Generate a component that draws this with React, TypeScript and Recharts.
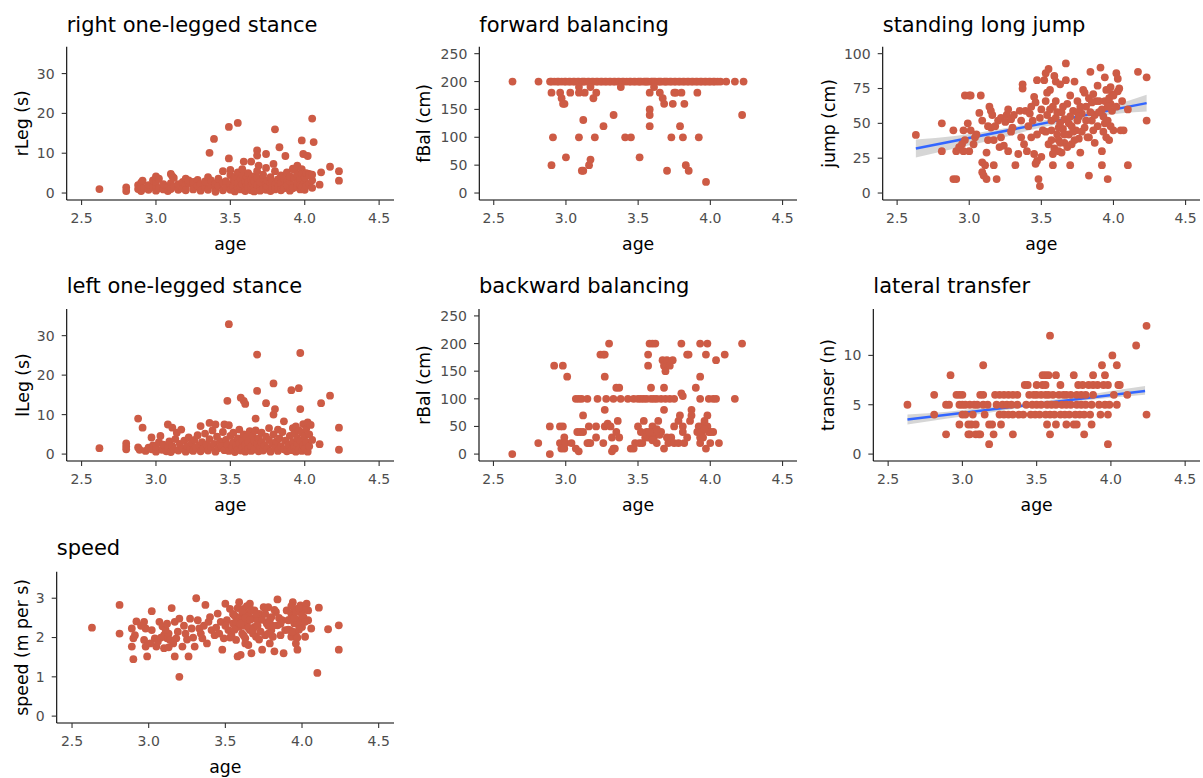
import React from 'react';
import { ComposedChart, Scatter, Line, Area, XAxis, YAxis } from 'recharts';

type P = [number, number];
type B = [number, number, number];

const ageTicks = [2.5, 3, 3.5, 4, 4.5];
const legTicks = [0, 10, 20, 30];
const balTicks = [0, 50, 100, 150, 200, 250];
const jumpTicks = [0, 25, 50, 75, 100];
const transferTicks = [0, 5, 10];
const speedTicks = [0, 1, 2, 3];

const rLegData: P[] = [
[2.62,1.0],[2.80,1.4],[2.80,0.5],[2.88,1.0],[2.88,2.0],[2.90,0.5],[2.90,1.5],[2.90,2.6],[2.91,3.1],[2.92,1.2],[2.95,0.8],[2.95,2.0],[2.98,1.5],[2.98,3.2],
[3.00,0.6],[3.00,1.8],[3.00,2.8],[3.00,4.2],[3.02,1.2],[3.02,3.6],[3.05,0.9],[3.05,2.2],[3.08,1.5],[3.08,0.5],[3.10,2.5],[3.10,4.8],[3.10,1.0],[3.11,4.2],[3.12,3.8],[3.12,1.6],[3.15,0.8],[3.15,2.2],[3.18,1.2],[3.18,2.8],[3.20,3.6],[3.20,1.9],[3.20,0.7],[3.22,2.5],[3.22,3.2],[3.25,1.5],[3.25,0.9],[3.25,2.8],[3.28,3.3],[3.28,1.8],[3.30,2.2],[3.30,0.6],[3.33,1.4],[3.33,2.9],[3.35,4.0],[3.35,0.8],[3.36,10.1],[3.37,2.0],[3.37,3.2],[3.39,13.6],[3.40,1.0],[3.40,2.4],[3.40,0.3],[3.42,1.8],[3.42,3.6],[3.45,2.6],[3.45,0.7],[3.45,5.5],[3.47,1.4],[3.47,3.0],[3.49,16.6],[3.49,8.7],[3.50,2.2],[3.50,0.8],[3.50,4.5],[3.50,5.8],[3.52,1.6],[3.52,3.4],[3.53,0.4],[3.53,2.8],[3.53,4.0],[3.55,17.6],[3.55,1.2],[3.55,2.5],[3.55,5.2],[3.57,0.9],[3.57,3.6],[3.57,1.8],[3.58,2.2],[3.58,4.5],[3.58,6.0],[3.59,7.9],[3.60,1.0],[3.60,3.0],[3.60,0.5],[3.61,2.0],[3.61,4.0],[3.62,1.4],[3.62,2.8],[3.62,5.0],[3.64,7.9],[3.64,0.7],[3.64,3.4],[3.64,1.9],[3.65,2.4],[3.65,4.2],[3.66,1.2],[3.66,3.0],[3.66,0.4],[3.68,10.7],[3.68,9.4],[3.68,2.0],[3.68,3.8],[3.68,5.5],[3.69,6.9],[3.70,1.5],[3.70,2.8],[3.70,0.6],[3.72,3.5],[3.72,1.0],[3.72,4.6],[3.74,9.8],[3.74,2.2],[3.74,0.8],[3.74,6.3],[3.75,1.7],[3.75,3.2],[3.77,2.6],[3.77,0.5],[3.77,4.0],[3.78,1.4],[3.78,3.0],[3.79,7.3],[3.80,16.0],[3.80,2.1],[3.80,5.5],[3.80,0.9],[3.82,3.4],[3.82,1.6],[3.83,11.5],[3.84,2.4],[3.84,4.4],[3.84,0.7],[3.86,1.2],[3.86,3.6],[3.87,9.3],[3.88,2.8],[3.88,5.2],[3.88,1.8],[3.90,0.6],[3.90,3.0],[3.90,4.2],[3.92,6.1],[3.92,2.0],[3.92,1.2],[3.93,3.8],[3.93,5.8],[3.95,6.9],[3.95,1.5],[3.95,2.6],[3.95,4.6],[3.97,0.9],[3.97,3.4],[3.97,2.0],[3.98,13.2],[3.98,6.0],[3.98,4.8],[3.98,1.4],[3.99,9.8],[4.00,2.8],[4.00,3.9],[4.00,0.8],[4.01,1.8],[4.01,5.0],[4.02,9.3],[4.03,4.8],[4.03,2.3],[4.03,4.4],[4.05,18.7],[4.05,1.3],[4.05,3.2],[4.05,4.6],[4.06,12.8],[4.10,2.1],[4.11,5.2],[4.17,6.6],[4.23,5.5],[4.23,3.1]
];

const fBalData: P[] = [
[2.63,200],[2.81,200],[2.89,200],[2.90,200],[2.92,200],[2.94,200],[2.95,200],[2.97,200],[2.99,200],[3.00,200],[3.02,200],[3.03,200],[3.05,200],[3.06,200],[3.08,200],[3.09,200],[3.11,200],[3.12,200],[3.13,200],[3.15,200],[3.16,200],[3.18,200],[3.19,200],[3.21,200],[3.22,200],[3.24,200],[3.25,200],[3.27,200],[3.28,200],[3.30,200],[3.31,200],[3.33,200],[3.34,200],[3.36,200],[3.37,200],[3.39,200],[3.40,200],[3.42,200],[3.44,200],[3.45,200],[3.47,200],[3.48,200],[3.50,200],[3.51,200],[3.52,200],[3.54,200],[3.55,200],[3.56,200],[3.57,200],[3.59,200],[3.60,200],[3.61,200],[3.62,200],[3.64,200],[3.65,200],[3.66,200],[3.68,200],[3.69,200],[3.70,200],[3.72,200],[3.73,200],[3.75,200],[3.76,200],[3.78,200],[3.79,200],[3.81,200],[3.82,200],[3.84,200],[3.85,200],[3.87,200],[3.88,200],[3.90,200],[3.91,200],[3.93,200],[3.94,200],[3.96,200],[3.97,200],[3.99,200],[4.00,200],[4.02,200],[4.03,200],[4.05,200],[4.07,200],[4.11,200],[4.17,200],[4.23,200],
[2.90,180],[2.90,50],[2.91,100],[2.96,180],[2.97,170],[2.98,160],[2.99,160],[3.00,64],[3.03,180],[3.09,190],[3.09,180],[3.09,100],[3.11,40],[3.12,40],[3.12,131],[3.13,180],[3.16,50],[3.17,60],[3.17,190],[3.19,170],[3.21,180],[3.20,100],[3.26,120],[3.33,140],[3.38,190],[3.41,100],[3.45,100],[3.51,64],[3.58,180],[3.58,150],[3.58,140],[3.58,120],[3.61,190],[3.65,180],[3.67,170],[3.68,160],[3.70,40],[3.74,160],[3.73,100],[3.75,180],[3.76,180],[3.80,180],[3.79,120],[3.81,100],[3.82,160],[3.83,50],[3.85,40],[3.91,180],[3.92,100],[3.97,20],[4.22,140]
];

const jumpData: P[] = [
[2.63,41.7],[2.81,50],[2.81,30],[2.89,45],[2.89,10],[2.91,10],[2.91,30],[2.93,33],[2.96,45],[2.97,70],[3.00,70],[3.01,70],[2.99,50],[2.97,38],[3.00,30],[3.01,45],[2.96,30],[3.03,35],[3.04,40],[3.08,70],[3.07,57.5],[3.09,52],[3.09,22],[3.09,15],[3.10,12.5],[3.12,10],[3.11,20],[3.12,29],[3.13,38],[3.14,62],[3.15,59],[3.16,56],[3.15,47],[3.17,38],[3.17,20],[3.19,10],[3.20,52],[3.21,33],[3.22,54],[3.24,34],[3.25,51],[3.26,56],[3.27,60],[3.29,53],[3.30,47],[3.31,56],[3.32,20],[3.34,28],[3.35,59],[3.36,40],[3.37,78],[3.37,75],[3.39,59],[3.40,30],[3.42,57],[3.43,40],[3.45,69],[3.45,28],[3.46,65],[3.46,21],[3.47,81],[3.47,23],[3.48,10],[3.49,5],[3.49,54],[3.50,26],[3.51,45],[3.52,81],[3.53,66],[3.53,86],[3.54,56],[3.55,89],[3.55,35],[3.56,74],[3.57,45],[3.58,62],[3.58,20],[3.59,84],[3.59,32],[3.60,54],[3.60,66],[3.61,42],[3.62,38],[3.62,47],[3.63,78],[3.64,29],[3.64,58],[3.66,53],[3.66,36],[3.67,81],[3.67,93],[3.68,64],[3.69,42],[3.69,50],[3.70,20],[3.71,35],[3.72,59],[3.73,80],[3.74,45],[3.75,52],[3.75,66],[3.76,39],[3.77,29],[3.78,57],[3.79,74],[3.80,47],[3.81,62],[3.82,40],[3.83,68],[3.83,12.5],[3.84,87],[3.85,52],[3.86,71],[3.87,56],[3.88,66],[3.89,77],[3.89,48],[3.91,90],[3.92,20],[3.92,30],[3.92,60],[3.93,44],[3.94,66],[3.94,83],[3.95,40],[3.95,74],[3.96,52],[3.96,10],[3.97,38],[3.98,76],[3.98,64],[3.99,59],[3.99,71],[4.00,45],[4.02,86],[4.03,82],[4.04,75],[4.05,45],[4.06,66],[4.07,45],[4.10,20],[4.10,60],[4.17,87],[4.23,83],[4.23,52],
[3.53,44],[3.57,38],[3.62,30],[3.65,46],[3.70,55],[3.72,44],[3.77,62],[3.83,40],[3.86,45],[3.90,58],[3.94,50],[3.97,68],[3.58,28],[3.63,36],[3.68,33],[3.56,60],[3.44,52],[3.38,35],[3.27,30],[3.18,48],[3.05,42],[2.95,35],[3.85,65],[3.80,72],[3.75,58],[4.02,62],[4.03,73],
[3.50,60],[3.54,72],[3.57,52],[3.60,80],[3.61,58],[3.63,50],[3.65,62],[3.66,42],[3.70,70],[3.71,48],[3.73,38],[3.76,55],[3.78,44],[3.81,52],[3.84,58],[3.87,36],[3.90,66],[3.93,55],[3.96,62],[3.98,48],[4.00,70],[3.41,48],[3.36,52],[3.29,44],[3.22,40],[3.13,48],[3.43,62],[3.47,42]
];
const jumpFit: P[] = [[2.63,32],[4.23,64.5]];
const jumpBand: B[] = [[2.63,25.5,38.5],[2.9,32,41],[3.2,39,45.5],[3.5,47,51.8],[3.8,53,58.5],[4.0,56.5,63],[4.23,58.5,70.5]];

const lLegData: P[] = [
[2.62,1.5],[2.80,2.7],[2.80,1.9],[2.80,1.2],[2.88,9.0],[2.88,1.7],[2.89,1.1],[2.91,6.7],[2.93,0.8],[2.95,1.6],[2.97,4.2],[2.97,1.2],[2.98,2.2],[3.00,0.6],[3.00,1.8],[3.02,3.0],[3.03,4.6],[3.04,1.1],[3.05,2.4],[3.07,0.7],[3.08,7.5],[3.08,1.6],[3.09,3.2],[3.10,0.5],[3.11,6.7],[3.11,2.0],[3.12,1.2],[3.13,3.8],[3.14,5.4],[3.15,0.9],[3.16,2.6],[3.17,6.2],[3.18,1.4],[3.19,3.4],[3.20,0.6],[3.21,2.0],[3.22,4.2],[3.23,1.2],[3.24,2.8],[3.25,0.8],[3.26,3.6],[3.27,1.6],[3.28,4.8],[3.29,2.2],[3.30,7.1],[3.30,0.7],[3.31,3.0],[3.32,1.4],[3.33,5.2],[3.34,2.4],[3.35,0.9],[3.36,7.9],[3.36,3.8],[3.37,1.8],[3.38,6.0],[3.39,2.6],[3.40,7.5],[3.40,0.6],[3.41,4.4],[3.42,1.5],[3.43,3.2],[3.44,2.0],[3.45,5.6],[3.46,7.5],[3.46,1.0],[3.47,3.6],[3.48,13.5],[3.48,2.4],[3.49,32.9],[3.49,7.3],[3.49,0.8],[3.50,4.6],[3.51,1.8],[3.52,3.0],[3.52,5.4],[3.53,0.5],[3.54,2.2],[3.55,4.0],[3.55,1.2],[3.56,6.2],[3.56,2.8],[3.57,14.3],[3.57,0.9],[3.58,3.6],[3.58,1.6],[3.59,13.5],[3.59,5.0],[3.60,12.7],[3.60,2.4],[3.60,0.6],[3.61,4.2],[3.62,1.4],[3.62,3.2],[3.63,5.8],[3.64,0.8],[3.64,2.0],[3.65,4.6],[3.66,1.2],[3.66,3.4],[3.67,9.0],[3.67,6.0],[3.68,25.2],[3.68,16.0],[3.68,2.6],[3.69,0.7],[3.69,4.0],[3.70,1.8],[3.71,3.0],[3.71,5.4],[3.72,0.9],[3.73,2.2],[3.74,12.9],[3.74,4.4],[3.75,1.4],[3.76,3.6],[3.76,6.6],[3.77,0.6],[3.78,2.6],[3.79,17.9],[3.79,10.0],[3.79,5.0],[3.80,11.4],[3.80,1.6],[3.81,3.2],[3.82,6.2],[3.82,0.8],[3.83,4.0],[3.84,2.0],[3.85,5.6],[3.86,8.3],[3.86,1.2],[3.87,3.4],[3.88,0.7],[3.89,2.4],[3.90,4.6],[3.91,16.2],[3.91,1.0],[3.92,6.6],[3.92,3.0],[3.93,5.2],[3.93,1.8],[3.94,0.6],[3.94,7.0],[3.95,2.6],[3.95,4.0],[3.96,16.7],[3.96,6.0],[3.96,1.2],[3.97,25.6],[3.97,11.4],[3.97,3.4],[3.98,5.4],[3.98,0.8],[3.99,7.6],[3.99,2.2],[4.00,4.6],[4.00,1.4],[4.01,6.4],[4.01,3.0],[4.02,8.0],[4.02,0.6],[4.03,5.0],[4.03,2.0],[4.04,7.4],[4.05,3.6],[4.10,2.5],[4.11,12.9],[4.17,14.8],[4.23,6.7],[4.23,1.1]
];

const rBalData: P[] = [
[2.63,0],[2.81,20],[2.89,0],[2.89,50],[2.92,160],[2.98,160],[2.96,50],[2.98,50],[2.96,20],[2.97,10],[2.99,30],[2.99,10],[3.00,20],[3.01,140],[3.04,20],[3.07,100],[3.09,100],[3.11,100],[3.15,100],[3.07,10],[3.09,5],[3.08,40],[3.10,40],[3.12,40],[3.12,70],[3.15,20],[3.16,20],[3.17,20],[3.16,50],[3.21,50],[3.22,100],[3.21,30],[3.24,180],[3.26,180],[3.27,180],[3.30,200],[3.27,140],[3.27,80],[3.28,100],[3.27,50],[3.29,55],[3.31,50],[3.26,20],[3.32,5],[3.33,10],[3.34,10],[3.32,30],[3.35,40],[3.36,60],[3.37,30],[3.35,120],[3.37,120],[3.33,100],[3.38,100],[3.43,100],[3.47,100],[3.50,100],[3.52,100],[3.54,100],[3.56,100],[3.59,100],[3.61,100],[3.63,100],[3.66,100],[3.69,100],[3.72,100],[3.75,100],[3.45,10],[3.47,10],[3.48,20],[3.51,20],[3.53,20],[3.50,50],[3.52,40],[3.54,60],[3.56,40],[3.57,30],[3.57,160],[3.57,180],[3.58,200],[3.60,200],[3.62,200],[3.59,120],[3.60,50],[3.61,30],[3.62,40],[3.63,20],[3.64,60],[3.66,40],[3.67,170],[3.68,160],[3.69,150],[3.70,170],[3.72,160],[3.74,170],[3.68,120],[3.68,80],[3.68,10],[3.70,30],[3.71,20],[3.73,30],[3.75,20],[3.78,20],[3.82,20],[3.75,50],[3.78,60],[3.79,70],[3.81,50],[3.81,40],[3.80,200],[3.80,110],[3.81,105],[3.84,180],[3.85,180],[3.86,60],[3.87,80],[3.87,70],[3.90,120],[3.91,40],[3.92,50],[3.93,30],[3.93,20],[3.94,50],[3.94,40],[3.93,140],[3.93,200],[3.98,200],[3.93,100],[3.99,100],[4.02,100],[4.04,100],[3.97,180],[3.97,10],[3.96,60],[3.98,70],[3.98,50],[3.99,40],[4.00,40],[4.02,40],[4.00,20],[4.06,20],[4.04,170],[4.10,180],[4.17,100],[4.22,200],
[3.55,30],[3.58,40],[3.60,25],[3.65,35],[3.63,45],[3.95,30],[3.96,45],[3.84,30]
];

const transferData: P[] = [
[2.63,5],[2.81,6],[2.81,4],[2.89,2],[2.89,5],[2.91,5],[2.92,8],[2.96,6],[2.98,6],[3.00,6],[2.98,5],[3.00,5],[3.02,5],[2.98,3],[3.00,4],[3.02,4],[3.04,2],[3.05,2],[3.04,3],[3.06,3],[3.09,3],[3.05,5],[3.08,5],[3.10,5],[3.07,4],[3.09,2],[3.11,2],[3.12,2],[3.12,6],[3.14,6],[3.14,9],[3.14,5],[3.17,5],[3.15,4],[3.18,3],[3.20,3],[3.18,1],[3.21,2],
[3.22,6],[3.25,6],[3.28,6],[3.31,6],[3.34,6],[3.37,6],[3.23,5],[3.27,5],[3.30,5],[3.33,5],[3.37,5],[3.25,4],[3.28,4],[3.31,4],[3.34,4],[3.38,4],[3.41,4],[3.26,3],[3.34,2],[3.42,7],[3.44,7],
[3.45,6],[3.48,6],[3.50,6],[3.53,6],[3.56,6],[3.58,6],[3.61,6],[3.65,6],[3.68,6],
[3.43,5],[3.47,5],[3.50,5],[3.53,5],[3.57,5],[3.60,5],[3.63,5],[3.67,5],[3.70,5],[3.73,5],[3.77,5],[3.80,5],[3.83,5],[3.87,5],
[3.46,4],[3.49,4],[3.52,4],[3.56,4],[3.59,4],[3.62,4],[3.66,4],[3.69,4],[3.72,4],[3.76,4],[3.79,4],[3.82,4],[3.86,4],
[3.50,7],[3.54,7],[3.56,7],[3.54,8],[3.56,8],[3.58,8],[3.63,8],[3.59,12],[3.57,3],[3.63,3],[3.59,2],[3.66,7],[3.75,8],[3.88,8],[3.70,3],[3.75,3],[3.77,3],[3.87,3],[3.82,2],
[3.78,7],[3.81,7],[3.85,7],[3.88,7],[3.91,7],[3.95,7],[3.98,7],[3.70,6],[3.73,6],[3.77,6],[3.80,6],[3.83,6],[3.88,6],
[3.94,9],[3.96,8],[3.92,5],[3.96,5],[3.99,5],[4.04,5],[3.93,4],[3.98,4],[3.98,1],[4.01,10],[4.04,9],[4.02,6],[4.05,7],[4.06,7],[4.11,6],[4.17,11],[4.24,13],[4.24,4]
];
const transferFit: P[] = [[2.63,3.5],[4.23,6.4]];
const transferBand: B[] = [[2.63,3.0,4.0],[2.9,3.6,4.3],[3.2,4.25,4.8],[3.5,4.9,5.3],[3.8,5.4,5.9],[4.0,5.7,6.4],[4.23,6.0,6.9]];

const speedData: P[] = [
[2.63,2.25],[2.81,2.83],[2.81,2.1],[2.89,2.23],[2.90,1.98],[2.89,1.77],[2.90,1.45],[2.92,2.41],[2.91,2.06],[2.97,2.40],[2.98,2.23],[2.97,1.94],[2.98,1.77],[2.99,1.52],[3.02,2.67],[3.02,2.19],[3.04,1.98],[3.05,1.77],[3.07,2.40],[3.09,2.29],[3.10,2.06],[3.10,1.73],[3.12,1.98],[3.13,2.1],[3.14,1.94],[3.15,2.75],[3.17,1.52],[3.17,2.40],[3.18,1.98],[3.20,1.0],[3.20,2.48],[3.22,1.77],[3.24,2.1],[3.26,1.52],[3.27,2.48],[3.28,2.23],[3.30,1.77],[3.31,3.0],[3.32,2.44],[3.33,2.23],[3.35,1.98],[3.37,2.83],[3.38,1.85],[3.40,2.52],[3.41,2.19],[3.43,2.06],[3.45,2.61],[3.47,2.40],[3.48,1.69],[3.49,1.98],[3.50,2.86],[3.51,2.44],[3.52,2.19],[3.53,2.73],[3.54,2.06],[3.55,2.36],[3.56,2.56],[3.57,1.94],[3.58,1.52],[3.59,2.9],[3.59,2.27],[3.60,1.56],[3.60,2.52],[3.61,2.1],[3.61,2.44],[3.62,2.73],[3.63,1.98],[3.64,2.36],[3.64,2.61],[3.65,1.81],[3.66,2.19],[3.66,2.86],[3.67,1.6],[3.68,2.48],[3.69,2.27],[3.69,2.69],[3.70,2.02],[3.71,2.44],[3.73,2.15],[3.74,1.69],[3.75,2.77],[3.76,2.06],[3.77,2.36],[3.78,2.77],[3.79,1.85],[3.80,2.19],[3.80,2.52],[3.81,2.02],[3.82,1.65],[3.83,2.65],[3.84,2.97],[3.84,2.31],[3.86,2.06],[3.87,2.44],[3.88,1.6],[3.89,2.19],[3.90,2.69],[3.91,2.44],[3.92,2.19],[3.93,2.02],[3.93,2.61],[3.94,2.9],[3.95,2.36],[3.95,2.73],[3.96,2.06],[3.96,1.85],[3.97,1.69],[3.98,2.44],[3.99,2.65],[3.99,2.82],[4.00,2.27],[4.01,2.52],[4.02,2.02],[4.03,2.86],[4.04,2.69],[4.04,2.44],[4.06,2.23],[4.10,1.1],[4.11,2.76],[4.17,2.21],[4.24,2.31],[4.24,1.69],
[3.06,1.9],[3.11,2.2],[3.16,1.85],[3.23,2.3],[3.29,2.0],[3.36,2.3],[3.44,2.25],[3.53,2.0],[3.57,2.4],[3.62,2.3],[3.65,2.55],[3.68,2.1],[3.72,2.6],[3.78,2.3],[3.85,2.5],[3.91,2.2],[3.94,2.55],[3.97,2.35],[4.01,2.7],[3.63,1.85],
[3.55,2.6],[3.56,2.2],[3.58,2.75],[3.60,2.35],[3.61,2.65],[3.62,2.05],[3.63,2.5],[3.64,2.8],[3.65,2.25],[3.66,2.45],[3.67,2.7],[3.68,2.2],[3.70,2.6],[3.71,2.3],[3.72,1.95],[3.74,2.45],[3.76,2.6],[3.78,2.1],[3.79,2.45],[3.81,2.3],[3.82,2.7],[3.86,2.35],[3.92,2.45],[3.93,2.8],[3.94,2.15],[3.95,2.5],[3.96,2.65],[3.97,2.0],[3.98,2.75],[3.98,2.2],[4.00,2.55],[4.02,2.4],[3.08,2.0],[3.13,1.75],[3.19,2.15],[3.25,1.95],[3.34,2.1],[3.39,2.4],[3.46,2.1],[3.50,2.3],[3.12,2.35],[3.01,1.85],[2.95,2.3]
];

const POINT = '#CD5B45';
const FONT = 'DejaVu Sans';

type Cfg = {
  title: string; yLabel: string; data: P[]; yDomain: [number, number]; yTicks: number[];
  colX: number; rowY: number; plotLeft: number; plotRight: number; plotTop: number; height: number;
  yTitleX: number; fit?: P[]; band?: B[];
};

const panels: Cfg[] = [
  { title: 'right one-legged stance', yLabel: 'rLeg (s)', data: rLegData, yDomain: [-1.75, 36.75], yTicks: legTicks, colX: 0, rowY: 0, plotLeft: 66.7, plotRight: 394, plotTop: 46.7, height: 259, yTitleX: 28.5 },
  { title: 'forward balancing', yLabel: 'fBal (cm)', data: fBalData, yDomain: [-12.5, 262.5], yTicks: balTicks, colX: 401, rowY: 0, plotLeft: 479.3, plotRight: 797, plotTop: 46.7, height: 259, yTitleX: 430 },
  { title: 'standing long jump', yLabel: 'jump (cm)', data: jumpData, yDomain: [-5, 105], yTicks: jumpTicks, colX: 802, rowY: 0, plotLeft: 882.7, plotRight: 1200, plotTop: 46.7, height: 259, yTitleX: 835, fit: jumpFit, band: jumpBand },
  { title: 'left one-legged stance', yLabel: 'lLeg (s)', data: lLegData, yDomain: [-1.75, 36.75], yTicks: legTicks, colX: 0, rowY: 261, plotLeft: 66.7, plotRight: 394, plotTop: 48, height: 259, yTitleX: 28.5 },
  { title: 'backward balancing', yLabel: 'rBal (cm)', data: rBalData, yDomain: [-12.5, 262.5], yTicks: balTicks, colX: 401, rowY: 261, plotLeft: 479, plotRight: 797, plotTop: 48, height: 259, yTitleX: 430 },
  { title: 'lateral transfer', yLabel: 'transer (n)', data: transferData, yDomain: [-0.7, 14.7], yTicks: transferTicks, colX: 802, rowY: 261, plotLeft: 873.3, plotRight: 1200, plotTop: 48, height: 259, yTitleX: 834, fit: transferFit, band: transferBand },
  { title: 'speed', yLabel: 'speed (m per s)', data: speedData, yDomain: [-0.175, 3.675], yTicks: speedTicks, colX: 0, rowY: 523, plotLeft: 56.7, plotRight: 394, plotTop: 48.7, height: 255, yTitleX: 28.5 },
];

const Dot = (p: any) => <circle cx={p.cx} cy={p.cy} r={3.9} fill={POINT} />;

function Panel({ c }: { c: Cfg }) {
  const w = c.plotRight - c.colX;
  const pts = c.data.map(([age, v]) => ({ age, v }));
  const fit = c.fit ? c.fit.map(([age, f]) => ({ age, fit: f })) : null;
  const band = c.band ? c.band.map(([age, lo, hi]) => ({ age, band: [lo, hi] })) : null;
  const tickStyle = { fill: '#4D4D4D', fontSize: 14, fontFamily: FONT };
  return (
    <div style={{ position: 'absolute', left: c.colX, top: c.rowY, width: w, height: c.height }}>
      <ComposedChart width={w} height={c.height} margin={{ top: c.plotTop, right: 0, bottom: 0, left: 0 }}>
        <XAxis type="number" dataKey="age" domain={[2.4, 4.6]} ticks={ageTicks} interval={0} allowDataOverflow
          tickFormatter={(v: number) => v.toFixed(1)} height={c.height - 200}
          tickSize={5} tickMargin={8} tick={tickStyle}
          axisLine={{ stroke: '#000000', strokeWidth: 1.1 }} tickLine={{ stroke: '#333333', strokeWidth: 1.1 }} />
        <YAxis type="number" dataKey="v" domain={c.yDomain} ticks={c.yTicks} interval={0} allowDataOverflow
          width={c.plotLeft - c.colX} tickSize={5} tickMargin={7} tick={tickStyle}
          axisLine={{ stroke: '#000000', strokeWidth: 1.1 }} tickLine={{ stroke: '#333333', strokeWidth: 1.1 }} />
        <Scatter data={pts} dataKey="v" shape={Dot} isAnimationActive={false} />
        {band && <Area data={band} dataKey="band" type="monotone" stroke="none" fill="#999999" fillOpacity={0.4} isAnimationActive={false} activeDot={false} dot={false} />}
        {fit && <Line data={fit} dataKey="fit" type="linear" stroke="#3366FF" strokeWidth={2.5} dot={false} activeDot={false} isAnimationActive={false} />}
      </ComposedChart>
    </div>
  );
}

export default function App() {
  return (
    <div style={{ position: 'absolute', left: 0, top: 0, width: 1203, height: 778, overflow: 'hidden', background: '#ffffff', fontFamily: FONT }}>
      {panels.map((c, i) => <Panel key={i} c={c} />)}
      <svg width={1203} height={778} style={{ position: 'absolute', left: 0, top: 0, pointerEvents: 'none' }}>
        {panels.map((c, i) => {
          const cy = c.rowY + (c.plotTop + 200) / 2;
          return (
            <g key={i} fontFamily={FONT} fill="#000000">
              <text x={c.plotLeft} y={c.rowY + 32} fontSize={21}>{c.title}</text>
              <text x={(c.plotLeft + c.plotRight) / 2} y={c.rowY + 249.5} fontSize={17.3} textAnchor="middle">age</text>
              <text x={c.yTitleX} y={cy} fontSize={17.3} textAnchor="middle" transform={`rotate(-90 ${c.yTitleX} ${cy})`}>{c.yLabel}</text>
            </g>
          );
        })}
      </svg>
    </div>
  );
}
